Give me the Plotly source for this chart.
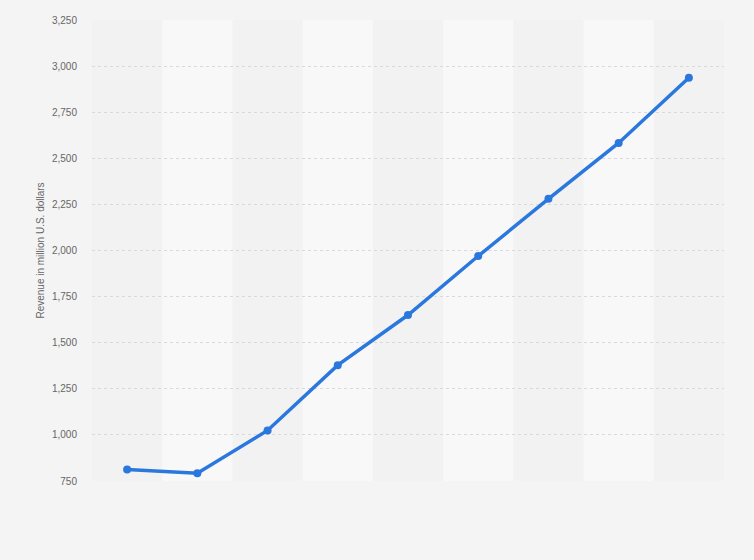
import plotly.graph_objects as go

# Data (x-axis labels are not shown in the reference)
positions = [0, 1, 2, 3, 4, 5, 6, 7, 8]
revenue = [812, 792, 1024, 1378, 1650, 1970, 2280, 2583, 2937]
y_ticks = [750, 1000, 1250, 1500, 1750, 2000, 2250, 2500, 2750, 3000, 3250]
y_tick_labels = ["750", "1,000", "1,250", "1,500", "1,750", "2,000", "2,250",
                 "2,500", "2,750", "3,000", "3,250"]

fig = go.Figure()
fig.add_trace(go.Scatter(
    x=positions, y=revenue, mode="lines+markers",
    line=dict(color="#2a78de", width=3.5),
    marker=dict(color="#2a78de", size=8),
    hoverinfo="y",
))

shapes = []
for i in positions:
    if i % 2 == 1:
        shapes.append(dict(type="rect", xref="x", yref="paper",
                           x0=i - 0.5, x1=i + 0.5, y0=0, y1=1,
                           fillcolor="#f8f8f8", line=dict(width=0), layer="below"))

fig.update_layout(
    width=754, height=560,
    paper_bgcolor="#f4f4f4", plot_bgcolor="#f2f2f2",
    margin=dict(l=92, r=30, t=20, b=79),
    showlegend=False,
    shapes=shapes,
    font=dict(family="Liberation Sans, Arial, sans-serif", color="#666666", size=10),
    xaxis=dict(range=[-0.5, 8.5], showticklabels=False, showgrid=False,
               zeroline=False, showline=False, fixedrange=True),
    yaxis=dict(range=[750, 3250], tickvals=y_ticks, ticktext=y_tick_labels,
               showgrid=True, gridcolor="#d9d9d9", griddash="dot", gridwidth=1,
               zeroline=False, showline=False, ticks="", ticklabelstandoff=14,
               title=dict(text="Revenue in million U.S. dollars",
                          font=dict(size=10, color="#666666"), standoff=5)),
)

fig.write_html("out.html", config={"displayModeBar": False},
               post_script="document.body.style.margin='0';document.body.style.background='#f4f4f4';")
